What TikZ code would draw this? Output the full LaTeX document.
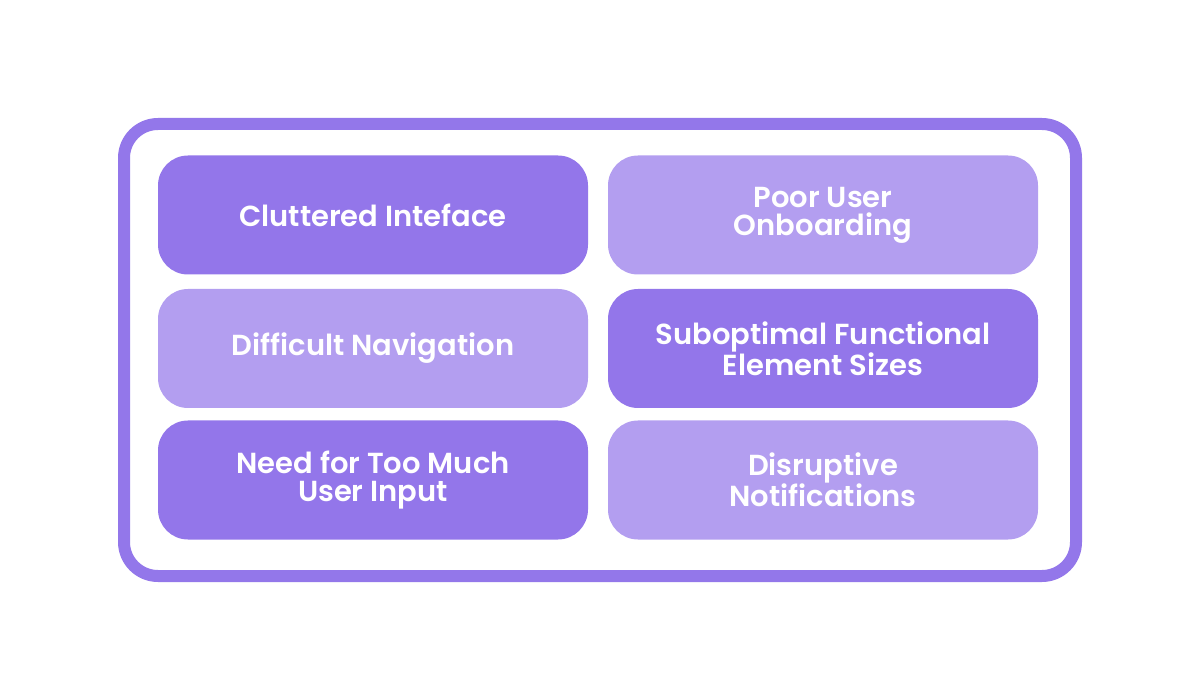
\documentclass[tikz,border=0pt]{standalone}
\usepackage{fontspec}
\setmainfont{Poppins}[BoldFont={* SemiBold}]
\usetikzlibrary{positioning}
\definecolor{framecol}{HTML}{9377EA}
\definecolor{darkcol}{HTML}{9376EA}
\definecolor{lightcol}{HTML}{B39EF0}

\begin{document}
\begin{tikzpicture}[
    x=1pt, y=-1pt,
    every node/.style={font=\fontsize{29}{28}\selectfont\bfseries, text=white},
    card/.style={rectangle, rounded corners=30pt, minimum width=430pt,
                 minimum height=119pt, align=center, inner sep=0pt},
    darkcard/.style={card, fill=darkcol},
    lightcard/.style={card, fill=lightcol},
]
\useasboundingbox (0,0) rectangle (1200,700);

% outer frame
\draw[framecol, line width=12pt, rounded corners=34pt] (124,124) rectangle (1076,576);

% left column
\node[darkcard] (clutter) at (373,215) {Cluttered Inteface};
\node[lightcard] (navig) at (373,348.5) {Difficult Navigation};
\node[darkcard] (input) at (373,480) {Need for Too Much\\User Input};

% right column
\node[lightcard] (onboard) at (823,215) {Poor User\\Onboarding};
\node[darkcard] (sizes) at (823,348.5) {Suboptimal Functional\\Element Sizes};
\node[lightcard] (notif) at (823,480) {Disruptive\\Notifications};

\end{tikzpicture}
\end{document}
